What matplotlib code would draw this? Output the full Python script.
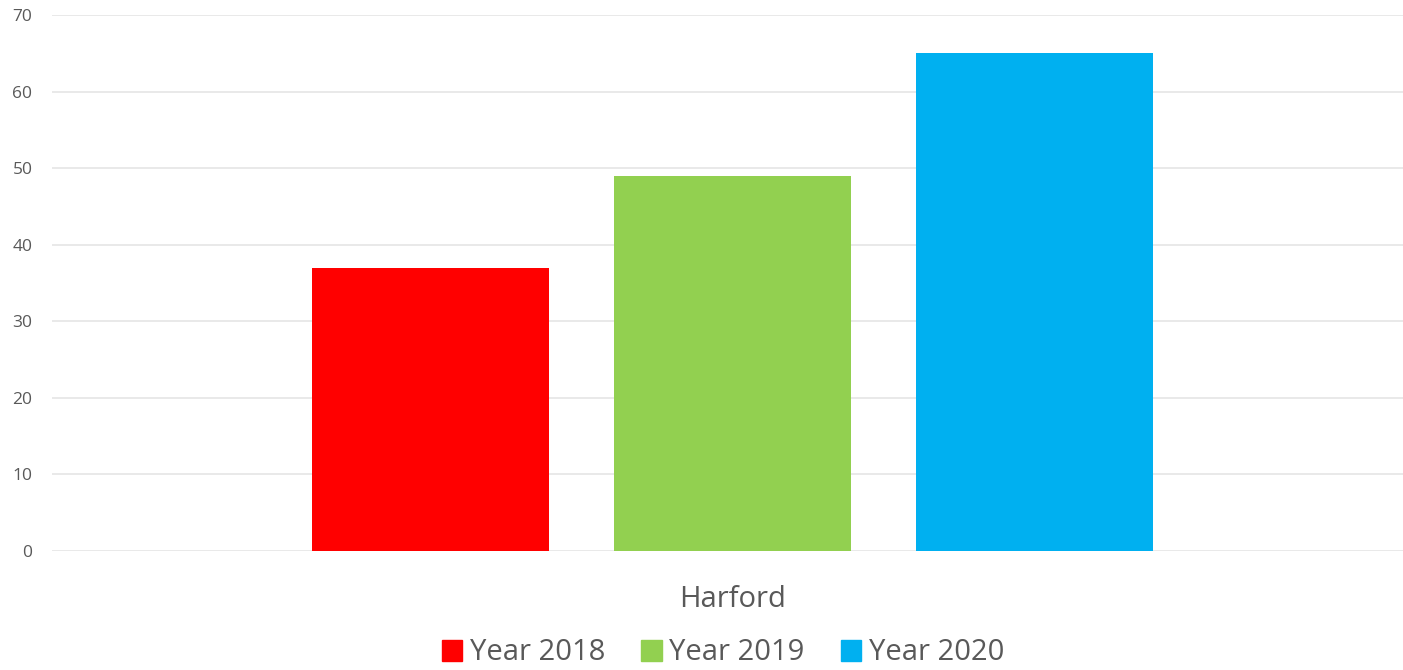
import matplotlib.pyplot as plt
from matplotlib.patches import Patch

plt.rcParams['font.family'] = ['Open Sans', 'DejaVu Sans']

category = 'Harford'
series = ['Year 2018', 'Year 2019', 'Year 2020']
values = [37, 49, 65]
colors = ['#FF0000', '#92D050', '#00B0F0']

fig = plt.figure(figsize=(14.03, 6.70), dpi=100)
ax = fig.add_axes([0.037, 0.1776, 0.963, 0.80])

offsets = [-1, 0, 1]
for off, v, c in zip(offsets, values, colors):
    ax.bar(off, v, width=0.785, color=c, zorder=3)

ax.set_xlim(-2.255, 2.219)
ax.set_ylim(0, 70)
ax.set_yticks(range(0, 71, 10))
ax.grid(axis='y', color='#e3e3e3', linewidth=1.1, zorder=0)
ax.set_xticks([])
for s in ax.spines.values():
    s.set_visible(False)
ax.tick_params(axis='y', length=0, labelsize=12.5, labelcolor='#595959', pad=14)

ax.text(0, -0.09, category, transform=ax.get_xaxis_transform(),
        ha='center', va='center', fontsize=21, color='#595959')

handles = [Patch(color=c, label=s) for s, c in zip(series, colors)]
fig.legend(handles=handles, loc='center', bbox_to_anchor=(723 / 1403, 1 - 653 / 670),
           ncol=3, frameon=False, fontsize=21, labelcolor='#595959',
           handlelength=0.7, handleheight=0.7, handletextpad=0.25, columnspacing=1.25)

fig.savefig('out.png', dpi=100)
